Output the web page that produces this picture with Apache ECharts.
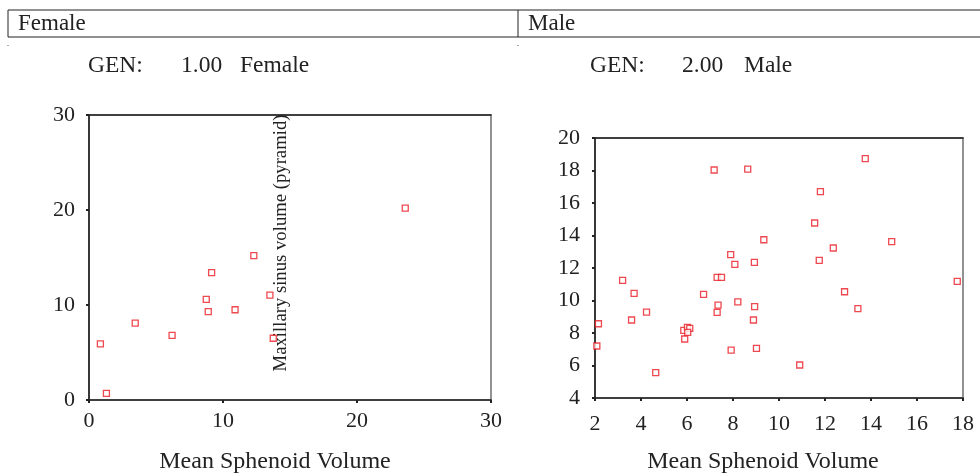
<!DOCTYPE html>
<html>
<head>
<meta charset="utf-8">
<script src="https://cdn.jsdelivr.net/npm/echarts@6/dist/echarts.min.js"></script>
<style>
html,body{margin:0;padding:0;background:#fff;}
#c{width:980px;height:475px;}
</style>
</head>
<body>
<div id="c"></div>
<script>
// Female panel (GEN 1.00)
const femaleX = [23.6, 12.3, 9.15, 13.5, 8.75, 8.9, 10.9, 3.45, 6.2, 0.85, 1.3, 13.75];
const femaleY = [20.2, 15.2, 13.4, 11.05, 10.6, 9.3, 9.5, 8.1, 6.8, 5.9, 0.7, 6.5];
// Male panel (GEN 2.00)
const maleX = [3.2, 3.7, 7.18, 8.64, 13.75, 11.8, 11.55, 9.34, 14.9, 12.36, 7.9, 8.08, 8.93, 11.75,
  7.31, 7.5, 17.75, 6.72, 12.85, 4.24, 3.59, 2.15, 2.08, 4.64, 5.86, 5.9, 6.02, 6.12, 6.03,
  7.35, 7.31, 8.21, 8.94, 8.89, 7.92, 9.02, 10.9, 13.43];
const maleY = [11.24, 10.44, 18.03, 18.09, 18.73, 16.70, 14.77, 13.74, 13.62, 13.23, 12.82, 12.22, 12.35, 12.47,
  11.42, 11.42, 11.18, 10.38, 10.54, 9.29, 8.80, 8.57, 7.20, 5.56, 8.16, 7.63, 8.35, 8.28, 8.04,
  9.72, 9.27, 9.91, 9.62, 8.80, 6.95, 7.05, 6.03, 9.50];
const femaleTicks = {min: 0, max: 30, interval: 10};
const maleXTicks = {min: 2, max: 18, interval: 2};
const maleYTicks = {min: 4, max: 20, interval: 2};
const headers = ['Female', 'Male'];
const genLabels = [['GEN:', '1.00', 'Female'], ['GEN:', '2.00', 'Male']];
const xName = 'Mean Sphenoid Volume';
const yName = 'Maxillary sinus volume (pyramid)';

const FONT = '"Liberation Serif", "DejaVu Serif", serif';
const RED = '#ea1c24';
const pairs = (xs, ys) => xs.map((v, i) => [v, ys[i]]);

function valueAxis(grid, t, margin, size) {
  return {
    gridIndex: grid, type: 'value', min: t.min, max: t.max, interval: t.interval,
    axisLine: {show: true, onZero: false, lineStyle: {color: '#222', width: 1.6}},
    axisTick: {show: true, inside: false, length: 3, lineStyle: {color: '#222', width: 2}},
    axisLabel: {color: '#222', fontFamily: FONT, fontSize: size, margin: margin},
    splitLine: {show: false}
  };
}
function topAxis(grid, t) {
  return {
    gridIndex: grid, type: 'value', position: 'top', min: t.min, max: t.max,
    axisLine: {show: true, onZero: false, lineStyle: {color: '#222', width: 1.6}},
    axisTick: {show: false}, axisLabel: {show: false}, splitLine: {show: false}
  };
}

const chart = echarts.init(document.getElementById('c'), null, {renderer: 'canvas'});
const txt = (text, x, y, size) => ({
  type: 'text', x: x, y: y,
  style: {text: text, fontFamily: FONT, fontSize: size, fill: '#222', verticalAlign: 'middle'}
});

chart.setOption({
  animation: false,
  backgroundColor: '#fff',
  grid: [
    {left: 89, top: 115, width: 402, height: 285, show: true, borderColor: '#777', borderWidth: 1.6, backgroundColor: 'transparent'},
    {left: 595, top: 138, width: 368, height: 260, show: true, borderColor: '#777', borderWidth: 1.6, backgroundColor: 'transparent'}
  ],
  xAxis: [
    valueAxis(0, femaleTicks, 10, 22),
    valueAxis(1, maleXTicks, 15, 22),
    topAxis(0, femaleTicks),
    topAxis(1, maleXTicks)
  ],
  yAxis: [
    valueAxis(0, femaleTicks, 14, 22),
    valueAxis(1, maleYTicks, 15, 22)
  ],
  series: [
    {type: 'scatter', xAxisIndex: 0, yAxisIndex: 0, data: pairs(femaleX, femaleY),
      symbol: 'rect', symbolSize: 6, itemStyle: {color: '#fff', borderColor: RED, borderWidth: 1.3}},
    {type: 'scatter', xAxisIndex: 1, yAxisIndex: 1, data: pairs(maleX, maleY),
      symbol: 'rect', symbolSize: 6, itemStyle: {color: '#fff', borderColor: RED, borderWidth: 1.3}}
  ],
  graphic: [
    {type: 'line', shape: {x1: 8, y1: 10, x2: 980, y2: 10}, style: {stroke: '#222', lineWidth: 1}},
    {type: 'line', shape: {x1: 8, y1: 37, x2: 980, y2: 37}, style: {stroke: '#222', lineWidth: 1}},
    {type: 'line', shape: {x1: 8, y1: 10, x2: 8, y2: 37}, style: {stroke: '#222', lineWidth: 1}},
    {type: 'line', shape: {x1: 518, y1: 10, x2: 518, y2: 37}, style: {stroke: '#222', lineWidth: 1}},
    {type: 'rect', shape: {x: 7.5, y: 45, width: 1, height: 1}, style: {fill: '#555'}},
    {type: 'rect', shape: {x: 517.5, y: 45, width: 1, height: 1}, style: {fill: '#555'}},
    txt(headers[0], 18, 24, 23),
    txt(headers[1], 528, 24, 23),
    txt(genLabels[0][0], 88, 66, 23.5),
    txt(genLabels[0][1], 181, 66, 23.5),
    txt(genLabels[0][2], 240, 66, 23.5),
    txt(genLabels[1][0], 590, 66, 23.5),
    txt(genLabels[1][1], 682, 66, 23.5),
    txt(genLabels[1][2], 744, 66, 23.5),
    {type: 'text', x: 275, y: 462,
      style: {text: xName, fontFamily: FONT, fontSize: 24, fill: '#222', align: 'center', verticalAlign: 'middle'}},
    {type: 'text', x: 763, y: 462,
      style: {text: xName, fontFamily: FONT, fontSize: 24, fill: '#222', align: 'center', verticalAlign: 'middle'}},
    {type: 'text', x: 281, y: 243, rotation: Math.PI / 2,
      style: {text: yName, fontFamily: FONT, fontSize: 18.7, fill: '#222', align: 'center', verticalAlign: 'middle'}}
  ]
});
</script>
</body>
</html>
